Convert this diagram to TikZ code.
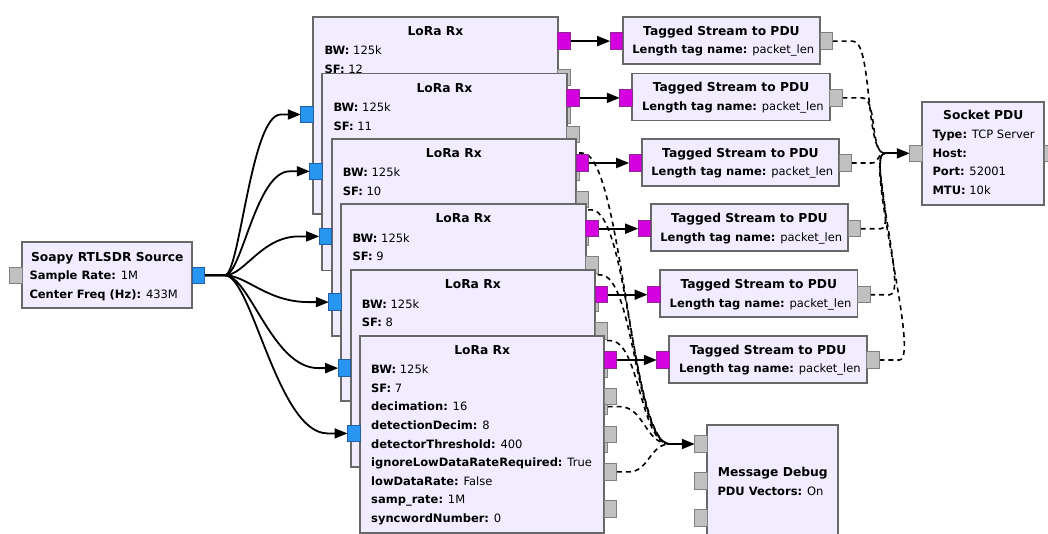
\documentclass[tikz,border=0pt]{standalone}
\usepackage{fontspec}
\setmainfont{DejaVu Sans}
\usetikzlibrary{calc,arrows.meta}
\pgfdeclarelayer{bg}
\pgfsetlayers{bg,main}

\definecolor{blkfill}{HTML}{F1ECFF}
\definecolor{blkline}{RGB}{104,104,104}
\definecolor{pblue}{RGB}{40,150,240}
\definecolor{pblueline}{RGB}{35,95,165}
\definecolor{pmag}{RGB}{212,0,224}
\definecolor{pmagline}{RGB}{140,40,150}
\definecolor{pgrey}{RGB}{192,192,192}
\definecolor{pgreyline}{RGB}{128,128,128}

\newcommand\PL[2]{\hbox{\textbf{#1} #2}}
\newcommand\PB[1]{\vtop{\baselineskip=18.6pt\lineskiplimit=-100pt\lineskip=0pt #1}}

\tikzset{
  blk/.style={draw=blkline, fill=blkfill, line width=1.8pt, inner sep=0pt, outer sep=0pt, anchor=north west},
  ttl/.style={inner sep=0pt, anchor=base, font=\fontsize{12.3pt}{15pt}\selectfont\bfseries},
  prm/.style={inner sep=0pt, anchor=base west, font=\fontsize{11.5pt}{18.6pt}\selectfont},
  port/.style={line width=1pt, minimum width=12.5pt, minimum height=16.5pt, inner sep=0pt, outer sep=0pt},
  pin/.style={port, anchor=east},
  pout/.style={port, anchor=west},
  cplx/.style={fill=pblue, draw=pblueline},
  byte/.style={fill=pmag, draw=pmagline},
  msg/.style={fill=pgrey, draw=pgreyline},
  flow/.style={line width=1.8pt, -{Triangle[length=13pt,width=10pt]}},
  msgline/.style={line width=1.6pt, dash pattern=on 5pt off 4pt},
  msgarrow/.style={line width=1.8pt, -{Triangle[length=13pt,width=10pt]}},
}

% #1 name, #2 left, #3 top, #4 parameter lines
\newcommand\LoRaBlk[4]{%
  \node[blk, minimum width=244.3pt, minimum height=197pt] (#1) at (#2,#3) {};
  \node[ttl] (#1t) at ($(#1.north)+(0,18.6)$) {LoRa Rx};
  \node[prm] (#1p) at ($(#1.north west)+(11,38)$) {\PB{#4}};
  \node[pin, cplx] (#1in) at ($(#1.north west)+(0,97.8)$) {};
  \node[pout, byte] (#1out) at ($(#1.north east)+(0,24.4)$) {};
  \node[pout, msg] (#1ma) at ($(#1.north east)+(0,60.8)$) {};
  \node[pout, msg] (#1mb) at ($(#1.north east)+(0,99)$) {};
  \node[pout, msg] (#1mc) at ($(#1.north east)+(0,136.3)$) {};
  \node[pout, msg] (#1md) at ($(#1.north east)+(0,173.5)$) {};
}

\newcommand\TSBlk[3]{%
  \node[blk, minimum width=197.5pt, minimum height=47pt] (#1) at (#2,#3) {};
  \node[ttl] (#1t) at ($(#1.north)+(0,18.4)$) {Tagged Stream to PDU};
  \node[prm] (#1p) at ($(#1.north west)+(9.5,36.8)$) {\PL{Length tag name:}{packet\_len}};
  \node[pin, byte] (#1in) at ($(#1.north west)+(0,24.4)$) {};
  \node[pout, msg] (#1out) at ($(#1.north east)+(0,24.4)$) {};
}

\begin{document}
\begin{tikzpicture}[x=1pt, y=-1pt]
\useasboundingbox (0,0) rectangle (1048,533);
\begin{pgfonlayer}{bg}
  \fill[white] (0,0) rectangle (1048,533);
\end{pgfonlayer}
\clip (0,0) rectangle (1048,533);

% Source
\node[blk, minimum width=170pt, minimum height=66pt] (soapy) at (22.3,242.3) {};
\node[ttl] (soapyt) at ($(soapy.north)+(0,19.2)$) {Soapy RTLSDR Source};
\node[prm] (soapyp) at ($(soapy.north west)+(7,37.3)$) {\PB{\PL{Sample Rate:}{1M}\PL{Center Freq (Hz):}{433M}}};
\node[pin, msg] (soapyin) at (soapy.west) {};
\node[pout, cplx] (soapyout) at (soapy.east) {};

% LoRa receivers (only the visible lines of the covered blocks)
\LoRaBlk{lr12}{313.3}{16.7}{\PL{BW:}{125k}\PL{SF:}{12}}
\LoRaBlk{lr11}{322.3}{73.5}{\PL{BW:}{125k}\PL{SF:}{11}}
\LoRaBlk{lr10}{331.7}{138.6}{\PL{BW:}{125k}\PL{SF:}{10}}
\LoRaBlk{lr9}{341.3}{204.3}{\PL{BW:}{125k}\PL{SF:}{9}}
\LoRaBlk{lr8}{350.7}{270.3}{\PL{BW:}{125k}\PL{SF:}{8}}
\LoRaBlk{lr7}{360}{335.6}{\PL{BW:}{125k}\PL{SF:}{7}\PL{decimation:}{16}\PL{detectionDecim:}{8}\PL{detectorThreshold:}{400}\PL{ignoreLowDataRateRequired:}{True}\PL{lowDataRate:}{False}\PL{samp\_rate:}{1M}\PL{syncwordNumber:}{0}}

% Tagged Stream to PDU
\TSBlk{ts1}{622.7}{16.7}
\TSBlk{ts2}{632.3}{73.5}
\TSBlk{ts3}{641.7}{138.6}
\TSBlk{ts4}{650.7}{204.3}
\TSBlk{ts5}{660}{270.3}
\TSBlk{ts6}{669.3}{335.6}

% Socket PDU
\node[blk, minimum width=122pt, minimum height=103.3pt] (sock) at (922.3,101.7) {};
\node[ttl] (sockt) at ($(sock.north)+(0,17.8)$) {Socket PDU};
\node[prm] (sockp) at ($(sock.north west)+(10,37)$) {\PB{\PL{Type:}{TCP Server}\PL{Host:}{}\PL{Port:}{52001}\PL{MTU:}{10k}}};
\node[pin, msg] (sockin) at (sock.west) {};
\node[pout, msg] (sockout) at (sock.east) {};

% Message Debug
\node[blk, minimum width=131pt, minimum height=125pt] (mdbg) at (707.3,425) {};
\node[ttl] (mdbgt) at ($(mdbg.north)+(0,51.5)$) {Message Debug};
\node[prm] (mdbgp) at ($(mdbg.north west)+(10,70)$) {\PL{PDU Vectors:}{On}};
\node[pin, msg] (mdbga) at ($(mdbg.north west)+(0,19)$) {};
\node[pin, msg] (mdbgb) at ($(mdbg.north west)+(0,56)$) {};
\node[pin, msg] (mdbgc) at ($(mdbg.north west)+(0,93)$) {};

\coordinate (mdj) at ($(mdbga.west)+(-25,0)$);
\coordinate (sj) at ($(sockin.west)+(-25,0)$);

\begin{pgfonlayer}{bg}
  % source fan-out
  \draw[flow] (soapyout.east) -- ++(20,0) .. controls +(15,0) and +(-30,0) .. ($(lr12in.west)+(-20,0)$) -- (lr12in.west);
  \draw[flow] (soapyout.east) -- ++(20,0) .. controls +(17,0) and +(-34,0) .. ($(lr11in.west)+(-20,0)$) -- (lr11in.west);
  \draw[flow] (soapyout.east) -- ++(20,0) .. controls +(20,0) and +(-38,0) .. ($(lr10in.west)+(-20,0)$) -- (lr10in.west);
  \draw[flow] (soapyout.east) -- ++(20,0) .. controls +(22,0) and +(-42,0) .. ($(lr9in.west)+(-20,0)$) -- (lr9in.west);
  \draw[flow] (soapyout.east) -- ++(20,0) .. controls +(25,0) and +(-46,0) .. ($(lr8in.west)+(-20,0)$) -- (lr8in.west);
  \draw[flow] (soapyout.east) -- ++(20,0) .. controls +(27,0) and +(-50,0) .. ($(lr7in.west)+(-20,0)$) -- (lr7in.west);
  % LoRa -> tagged stream
  \draw[flow] (lr12out.east) -- (ts1in.west);
  \draw[flow] (lr11out.east) -- (ts2in.west);
  \draw[flow] (lr10out.east) -- (ts3in.west);
  \draw[flow] (lr9out.east) -- (ts4in.west);
  \draw[flow] (lr8out.east) -- (ts5in.west);
  \draw[flow] (lr7out.east) -- (ts6in.west);
  % LoRa -> message debug
  \draw[msgline] (lr12mc.east) -- ++(12,0) .. controls +(40,0) and +(-40,0) .. (mdj);
  \draw[msgline] (lr11mc.east) -- ++(12,0) .. controls +(38,0) and +(-38,0) .. (mdj);
  \draw[msgline] (lr10mc.east) -- ++(12,0) .. controls +(34,0) and +(-34,0) .. (mdj);
  \draw[msgline] (lr9mc.east) -- ++(12,0) .. controls +(30,0) and +(-30,0) .. (mdj);
  \draw[msgline] (lr8mc.east) -- ++(12,0) .. controls +(25,0) and +(-25,0) .. (mdj);
  \draw[msgline] (lr7mc.east) -- ++(12,0) .. controls +(20,0) and +(-20,0) .. (mdj);
  \draw[msgarrow] (mdj) -- (mdbga.west);
  % tagged stream -> socket
  \draw[msgline] (ts1out.east) -- ++(20,0) .. controls +(20,0) and +(-20,0) .. (sj);
  \draw[msgline] (ts2out.east) -- ++(20,0) .. controls +(15,0) and +(-15,0) .. (sj);
  \draw[msgline] (ts3out.east) -- ++(20,0) .. controls +(8,0) and +(-8,0) .. (sj);
  \draw[msgline] (ts4out.east) -- ++(20,0) .. controls +(15,0) and +(-15,0) .. (sj);
  \draw[msgline] (ts5out.east) -- ++(20,0) .. controls +(18,0) and +(-18,0) .. (sj);
  \draw[msgline] (ts6out.east) -- ++(20,0) .. controls +(22,0) and +(-22,0) .. (sj);
  \draw[msgarrow] (sj) -- (sockin.west);
\end{pgfonlayer}
\end{tikzpicture}
\end{document}
